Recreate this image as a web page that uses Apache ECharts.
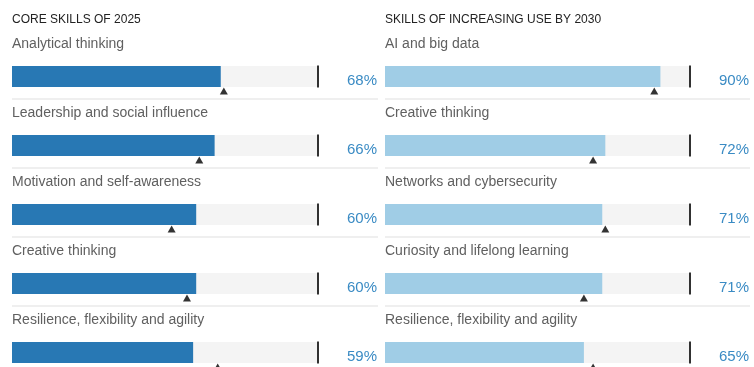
<!DOCTYPE html>
<html>
<head>
<meta charset="utf-8">
<script src="https://cdn.jsdelivr.net/npm/echarts@6/dist/echarts.min.js"></script>
<style>
  html, body { margin: 0; padding: 0; background: #fff; }
  #chart { width: 754px; height: 367px; }
</style>
</head>
<body>
<div id="chart"></div>
<script>
// data
var coreSkills = ['Analytical thinking', 'Leadership and social influence', 'Motivation and self-awareness', 'Creative thinking', 'Resilience, flexibility and agility'];
var coreValues = [68, 66, 60, 60, 59];
var coreMarkers = [69, 61, 52, 57, 67];

var growthSkills = ['AI and big data', 'Creative thinking', 'Networks and cybersecurity', 'Curiosity and lifelong learning', 'Resilience, flexibility and agility'];
var growthValues = [90, 72, 71, 71, 65];
var growthMarkers = [88, 68, 72, 65, 68];

var panelTitles = ['CORE SKILLS OF 2025', 'SKILLS OF INCREASING USE BY 2030'];
var axisMax = 100;

;(function () {
  var myChart = echarts.init(document.getElementById('chart'));
  var font = '"Liberation Sans", Arial, Helvetica, sans-serif';

  var panels = [
    { names: coreSkills, values: coreValues, markers: coreMarkers, color: '#2878b4', left: 12, width: 307 },
    { names: growthSkills, values: growthValues, markers: growthMarkers, color: '#a0cde6', left: 385, width: 306 }
  ];
  var rowH = 69, top = 42;

  var grid = [], xAxis = [], yAxis = [], series = [], graphic = [], title = [];

  panels.forEach(function (p, k) {
    title.push({
      text: panelTitles[k], left: p.left, top: 14, padding: 0,
      textStyle: { fontFamily: font, fontSize: 12, fontWeight: 'normal', color: '#222' }
    });
    // the last row runs past the bottom edge, so no fitting into the box
    grid.push({ left: p.left, top: top, width: p.width, height: rowH * p.names.length, outerBoundsMode: 'none' });
    xAxis.push({ type: 'value', gridIndex: k, min: 0, max: axisMax, show: false });
    yAxis.push({
      type: 'category', gridIndex: k, data: p.names, inverse: true,
      axisLine: { show: false }, axisTick: { show: false }, axisLabel: { show: false }
    });
    // percentages on the right, sitting a little below the bar middle
    yAxis.push({
      type: 'category', gridIndex: k, data: p.names, inverse: true, position: 'right',
      axisLine: { show: false }, axisTick: { show: false },
      axisLabel: {
        margin: 58, align: 'right', verticalAlign: 'top', lineHeight: 8,
        fontFamily: font, fontSize: 15, color: '#3a8bc4',
        formatter: function (v, i) { return p.values[i] + '%'; }
      }
    });

    series.push({
      type: 'bar', xAxisIndex: k, yAxisIndex: k * 2,
      data: p.values, barWidth: 21,
      itemStyle: { color: p.color },
      showBackground: true, backgroundStyle: { color: '#f4f4f4' },
      label: {
        show: true, position: 'insideLeft', distance: 0, offset: [0, -32.5],
        formatter: '{b}', fontFamily: font, fontSize: 14, color: '#606060'
      },
      silent: true
    });
    // end line at 100%
    series.push({
      type: 'scatter', xAxisIndex: k, yAxisIndex: k * 2,
      data: p.names.map(function (n) { return [axisMax, n]; }),
      symbol: 'rect', symbolSize: [2, 22], symbolOffset: [-1, 0],
      itemStyle: { color: '#000' }, silent: true, z: 3
    });
    // small triangles under the bars
    series.push({
      type: 'scatter', xAxisIndex: k, yAxisIndex: k * 2,
      data: p.markers.map(function (v, i) { return [v, p.names[i]]; }),
      symbol: 'triangle', symbolSize: [8, 7], symbolOffset: [0, 14.5],
      itemStyle: { color: '#000' }, silent: true, z: 4
    });

    // thin rules between rows
    for (var i = 0; i < p.names.length - 1; i++) {
      graphic.push({
        type: 'rect', silent: true,
        shape: { x: p.left, y: top + rowH * (i + 1) - 13, width: k ? 365 : 366, height: 2 },
        style: { fill: '#efefef' }
      });
    }
  });

  var option = {
    animation: false,
    title: title,
    grid: grid,
    xAxis: xAxis,
    yAxis: yAxis,
    series: series,
    graphic: graphic
  };

  myChart.setOption(option);
})();
</script>
</body>
</html>
